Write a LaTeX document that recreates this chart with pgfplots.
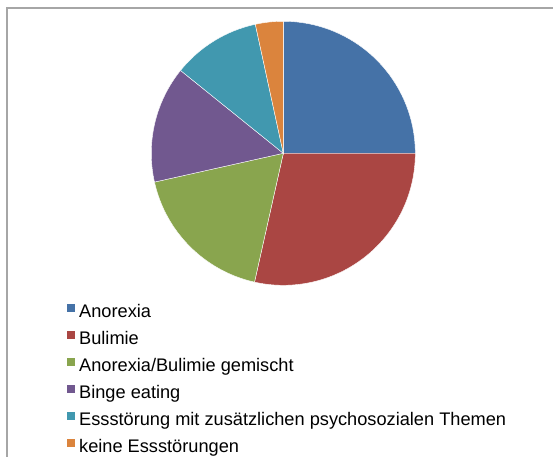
\documentclass[border=0pt]{standalone}
\usepackage{pgfplots}
\pgfplotsset{compat=1.18}
\usepackage{fontspec}
\setmainfont{Liberation Sans}

\definecolor{cA}{RGB}{69,114,167}
\definecolor{cB}{RGB}{170,70,67}
\definecolor{cC}{RGB}{137,165,78}
\definecolor{cD}{RGB}{113,88,143}
\definecolor{cE}{RGB}{65,152,175}
\definecolor{cF}{RGB}{219,132,61}

% one slice: #1 share before it (%), #2 its share (%), #3 colour
\newcommand\pieslice[3]{%
  \fill[#3, draw=white, line width=0.4pt] (axis cs:283.3,303.7) -- ++({90-3.6*(#1)}:132pt)
    arc[start angle={90-3.6*(#1)}, delta angle={-3.6*(#2)}, radius=132pt] -- cycle;}

\begin{document}
\begin{tikzpicture}
\begin{axis}[
    x=1pt, y=1pt, scale only axis,
    xmin=0, xmax=553, ymin=0, ymax=457,
    hide axis,
    legend cell align=left,
    legend style={at={(axis cs:66.5,153.3)}, anchor=north west,
        draw=none, fill=none, inner sep=0pt, outer sep=0pt,
        row sep=9.5pt,
        nodes={inner sep=0pt, text height=13pt, text depth=4pt},
        font=\fontsize{18.2}{20}\selectfont},
    legend image code/.code={\fill[#1, draw=none] (0pt,1pt) rectangle (8pt,9pt); \path (12.5pt,0pt);},
]
% frame of the chart area
\draw[gray!70, line width=1.3pt] (axis cs:553,449) -- (axis cs:7,449) -- (axis cs:7,0);

\pieslice{0}{25.0}{cA}
\pieslice{25.0}{28.5}{cB}
\pieslice{53.5}{18.0}{cC}
\pieslice{71.5}{14.3}{cD}
\pieslice{85.8}{10.8}{cE}
\pieslice{96.6}{3.4}{cF}

\addlegendimage{fill=cA}
\addlegendentry{Anorexia}
\addlegendimage{fill=cB}
\addlegendentry{Bulimie}
\addlegendimage{fill=cC}
\addlegendentry{Anorexia/Bulimie gemischt}
\addlegendimage{fill=cD}
\addlegendentry{Binge eating}
\addlegendimage{fill=cE}
\addlegendentry{Essstörung mit zusätzlichen psychosozialen Themen}
\addlegendimage{fill=cF}
\addlegendentry{keine Essstörungen}
\end{axis}
\pgfresetboundingbox
\path[use as bounding box] (0,0) rectangle (553pt,457pt);
\end{tikzpicture}
\end{document}
